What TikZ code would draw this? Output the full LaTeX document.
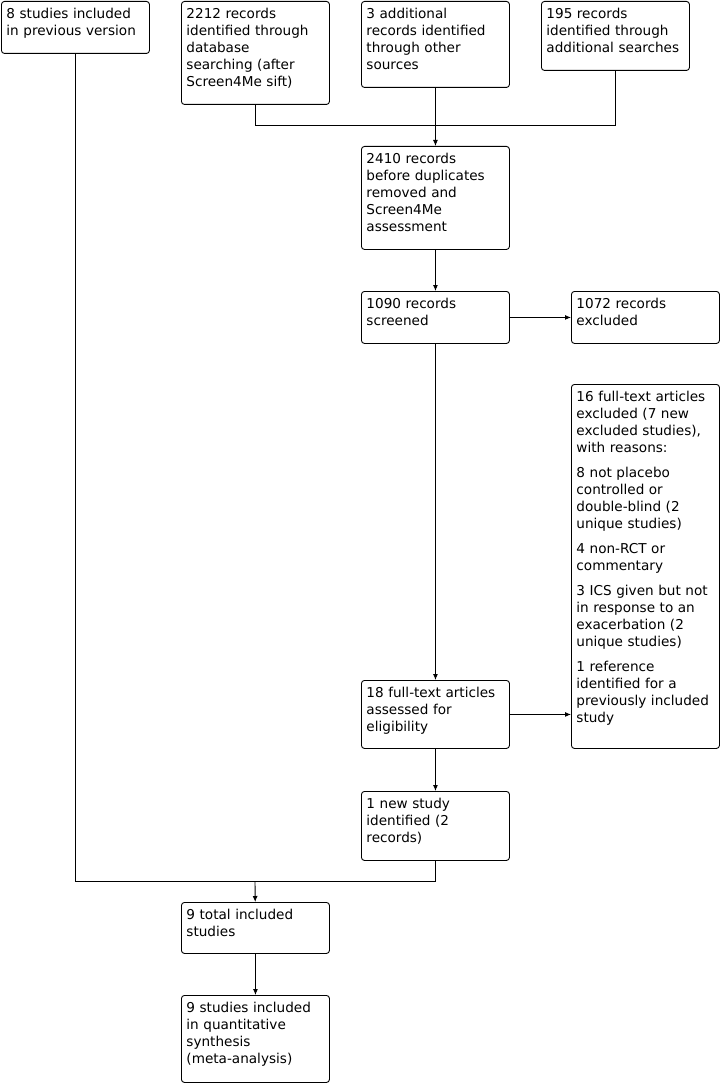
\documentclass[tikz,border=0pt]{standalone}
\usepackage{fontspec}
\setmainfont{DejaVu Sans}
\usetikzlibrary{arrows.meta}
\begin{document}
\begin{tikzpicture}[x=1pt, y=-1pt,
  box/.style={draw, rounded corners=3pt, anchor=north west, line width=0.9pt,
              inner xsep=5pt, inner ysep=5pt, text width=138pt, align=left,
              text height=12pt, text depth=#1, font=\fontsize{13.6}{17}\selectfont},
  conn/.style={-{Latex[length=6pt,width=5pt]}, line width=0.9pt},
  link/.style={line width=0.9pt}
]
\useasboundingbox (0,0) rectangle (722,1083);

% Identification (top row)
\node[box=30pt] (prev)  at (1,1)   {8 studies included\\in previous version};
\node[box=81pt] (db)    at (181,1) {2212 records\\identified through\\database\\searching (after\\Screen4Me sift)};
\node[box=64pt] (other) at (361,1) {3 additional\\records identified\\through other\\sources};
\node[box=47pt] (addl)  at (541,1) {195 records\\identified through\\additional searches};

% Screening
\node[box=81pt] (dup)   at (361,146) {2410 records\\before duplicates\\removed and\\Screen4Me\\assessment};
\node[box=30pt] (scr)   at (361,291) {1090 records\\screened};
\node[box=30pt] (excl)  at (571,291) {1072 records\\excluded};

% Eligibility
\node[box=342pt] (ftex) at (571,384) {16 full-text articles\\excluded (7 new\\excluded studies),\\with reasons:\\[8pt]
  8 not placebo\\controlled or\\double-blind (2\\unique studies)\\[8pt]
  4 non-RCT or\\commentary\\[8pt]
  3 ICS given but not\\in response to an\\exacerbation (2\\unique studies)\\[8pt]
  1 reference\\identified for a\\previously included\\study};
\node[box=46pt] (ft)    at (361,680) {18 full-text articles\\assessed for\\eligibility};
\node[box=47pt] (new)   at (361,791) {1 new study\\identified (2\\records)};

% Included
\node[box=29pt] (tot)   at (181,902) {9 total included\\studies};
\node[box=65pt] (meta)  at (181,995) {9 studies included\\in quantitative\\synthesis\\(meta-analysis)};

% Junctions
\coordinate (jtop) at (435,125);
\coordinate (jbot) at (255,881);

% Connectors
\draw[link] (db.south) |- (jtop);
\draw[link] (addl.south) |- (jtop);
\draw[conn] (other) -- (dup);
\draw[conn] (dup) -- (scr);
\draw[conn] (scr) -- (excl);
\draw[conn] (scr) -- (ft);
\draw[conn] (ft.east) -- (ft.east -| ftex.west);
\draw[conn] (ft) -- (new);
\draw[link] (prev.south) |- (jbot);
\draw[link] (new.south) |- (jbot);
\draw[conn] (jbot) -- (tot);
\draw[conn] (tot) -- (meta);
\end{tikzpicture}
\end{document}
